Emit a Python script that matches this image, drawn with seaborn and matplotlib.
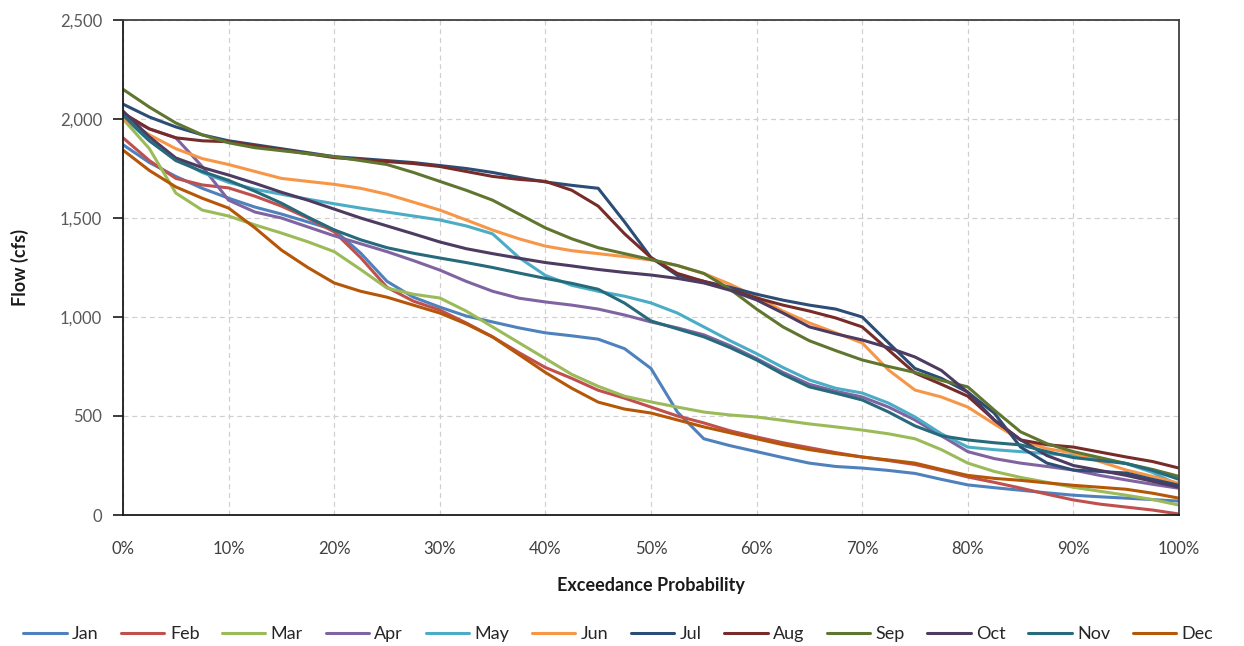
import numpy as np
import pandas as pd
import matplotlib
matplotlib.use("Agg")
import matplotlib.pyplot as plt
import seaborn as sns
from matplotlib.ticker import FuncFormatter, MultipleLocator

# ---- data (every 2.5 %) ----
exceedance = [i * 2.5 for i in range(41)]

jan = [1870, 1780, 1710, 1650, 1600, 1555, 1520, 1480, 1440, 1323, 1180, 1100, 1050, 1005, 975, 945, 920, 905, 888, 840,
       740, 520, 385, 350, 320, 290, 262, 245, 237, 225, 210, 180, 152, 138, 125, 112, 100, 92, 85, 78, 70]
feb = [1905, 1790, 1700, 1667, 1652, 1610, 1560, 1500, 1430, 1300, 1150, 1080, 1035, 970, 900, 820, 745, 690, 630, 590,
       545, 500, 465, 425, 394, 365, 340, 315, 293, 275, 255, 225, 192, 165, 136, 105, 76, 55, 40, 25, 5]
mar = [2000, 1850, 1626, 1540, 1510, 1465, 1424, 1380, 1330, 1240, 1146, 1115, 1096, 1030, 950, 870, 790, 710, 650, 600,
       571, 545, 520, 505, 495, 478, 460, 445, 429, 410, 385, 330, 262, 220, 190, 165, 140, 120, 100, 78, 50]
apr = [2020, 1950, 1905, 1760, 1590, 1530, 1500, 1455, 1410, 1370, 1330, 1285, 1237, 1180, 1130, 1095, 1076, 1060, 1040, 1010,
       975, 945, 910, 855, 790, 720, 660, 625, 596, 545, 480, 400, 320, 285, 262, 245, 227, 200, 177, 155, 135]
may = [2010, 1890, 1800, 1730, 1680, 1645, 1620, 1595, 1572, 1550, 1530, 1510, 1490, 1460, 1420, 1300, 1210, 1160, 1130, 1105,
       1071, 1020, 950, 880, 815, 745, 682, 640, 616, 565, 495, 410, 343, 330, 320, 310, 300, 285, 260, 215, 150]
jun = [2000, 1920, 1850, 1800, 1770, 1735, 1700, 1685, 1670, 1650, 1620, 1580, 1540, 1490, 1439, 1395, 1358, 1335, 1320, 1305,
       1288, 1260, 1220, 1165, 1101, 1030, 970, 920, 869, 732, 631, 596, 545, 460, 379, 335, 313, 270, 227, 195, 160]
jul = [2075, 2010, 1960, 1920, 1890, 1870, 1850, 1830, 1810, 1800, 1790, 1780, 1765, 1750, 1730, 1705, 1682, 1665, 1650, 1480,
       1300, 1210, 1180, 1150, 1115, 1085, 1060, 1040, 1000, 869, 740, 690, 620, 515, 343, 262, 227, 220, 212, 180, 150]
aug = [2030, 1950, 1905, 1890, 1885, 1865, 1845, 1825, 1805, 1795, 1785, 1775, 1760, 1735, 1710, 1695, 1685, 1640, 1560, 1420,
       1300, 1220, 1180, 1140, 1096, 1060, 1030, 995, 950, 833, 717, 660, 600, 480, 379, 355, 343, 318, 293, 270, 237]
sep = [2150, 2060, 1980, 1920, 1880, 1855, 1840, 1825, 1810, 1790, 1770, 1730, 1685, 1640, 1590, 1520, 1450, 1395, 1350, 1320,
       1290, 1260, 1220, 1140, 1040, 950, 880, 830, 783, 750, 720, 680, 647, 530, 420, 360, 320, 290, 260, 230, 195]
oct_ = [2040, 1910, 1803, 1755, 1717, 1675, 1630, 1590, 1545, 1500, 1460, 1420, 1379, 1345, 1320, 1297, 1275, 1258, 1240, 1225,
        1212, 1195, 1172, 1135, 1086, 1020, 950, 915, 884, 845, 798, 730, 620, 480, 380, 300, 250, 225, 200, 170, 140]
nov = [2020, 1890, 1790, 1735, 1690, 1635, 1575, 1505, 1440, 1390, 1350, 1322, 1298, 1275, 1250, 1222, 1195, 1170, 1140, 1070,
       980, 940, 900, 845, 783, 710, 647, 615, 581, 520, 450, 400, 379, 365, 354, 320, 290, 275, 260, 225, 180]
dec = [1843, 1740, 1657, 1600, 1550, 1450, 1338, 1250, 1172, 1130, 1100, 1060, 1020, 965, 899, 810, 720, 640, 570, 535,
       515, 480, 445, 415, 385, 355, 330, 310, 293, 278, 262, 230, 200, 185, 175, 162, 150, 140, 130, 110, 85]

months = ["Jan", "Feb", "Mar", "Apr", "May", "Jun", "Jul", "Aug", "Sep", "Oct", "Nov", "Dec"]
series = [jan, feb, mar, apr, may, jun, jul, aug, sep, oct_, nov, dec]
colors = ["#4F81BD", "#C0504D", "#9BBB59", "#8064A2", "#4BACC6", "#F79646",
          "#2C4D75", "#772C2A", "#5F7530", "#4D3B62", "#276A7C", "#B65708"]

df = pd.DataFrame({
    "Exceedance": np.tile(exceedance, len(months)),
    "Flow": np.concatenate([np.asarray(s, dtype=float) for s in series]),
    "Month": np.repeat(months, len(exceedance)),
})

sns.set_theme(style="white")
plt.rcParams["font.family"] = ["Lato", "DejaVu Sans"]

fig = plt.figure(figsize=(12.44, 6.46), dpi=100)
ax = fig.add_axes([123 / 1244, 1 - 515 / 646, (1179 - 123) / 1244, (515 - 20) / 646])

sns.lineplot(data=df, x="Exceedance", y="Flow", hue="Month", hue_order=months,
             palette=colors, linewidth=2.2, ax=ax, legend=False, sort=False)

ax.set_xlim(0, 100)
ax.set_ylim(0, 2500)
ax.xaxis.set_major_locator(MultipleLocator(10))
ax.yaxis.set_major_locator(MultipleLocator(500))
ax.xaxis.set_major_formatter(FuncFormatter(lambda v, p: f"{int(round(v))}%"))
ax.yaxis.set_major_formatter(FuncFormatter(lambda v, p: f"{int(v):,}"))

ax.grid(True, which="major", linestyle=(0, (4, 3)), color="#D0D0D0", linewidth=0.9)
ax.set_axisbelow(True)
for s in ax.spines.values():
    s.set_color("#404040")
    s.set_linewidth(1.3)
ax.spines["left"].set_color("#1a1a1a")
ax.spines["bottom"].set_color("#1a1a1a")

ax.tick_params(axis="y", which="major", direction="out", length=7, width=1.2,
               color="#1a1a1a", labelsize=12, labelcolor="#595959", pad=8, left=True)
ax.tick_params(axis="x", which="major", length=0, labelsize=12, labelcolor="#404040", pad=19)

ax.set_xlabel("Exceedance Probability", fontsize=13, fontweight="bold", color="#1a1a1a", labelpad=14)
ax.set_ylabel("Flow (cfs)", fontsize=13, fontweight="bold", color="#1a1a1a", labelpad=22)

handles = [plt.Line2D([0], [0], color=c, lw=2.2) for c in colors]
fig.legend(handles, months, loc="center", bbox_to_anchor=(0.497, 1 - 634 / 646),
           ncol=12, frameon=False, fontsize=13, handlelength=2.4, handletextpad=0.3,
           columnspacing=1.25, labelcolor="#262626")

fig.savefig("out.png", dpi=100)
